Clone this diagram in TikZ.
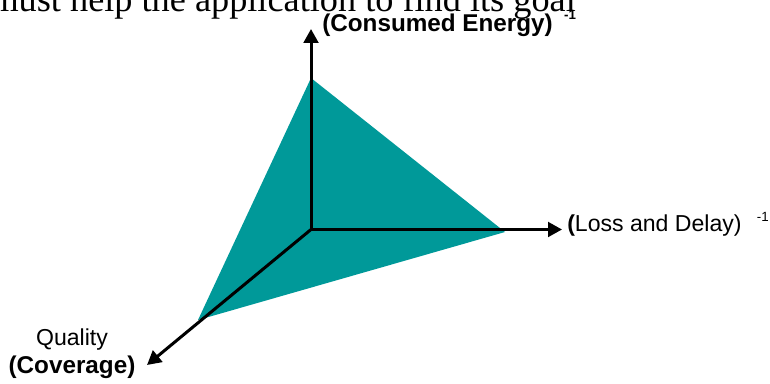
\documentclass[tikz,border=0pt]{standalone}
\usepackage{fontspec}
\setmainfont{Liberation Serif}
\setsansfont{Liberation Sans}
\usetikzlibrary{arrows.meta,positioning}
\definecolor{teal}{RGB}{0,153,153}

\begin{document}
\begin{tikzpicture}[x=0.75pt, y=-0.75pt,
  axis/.style={-{Triangle[length=10.5pt, width=11pt]}, line width=2.25pt, black},
  plane/.style={fill=teal, draw=none},
  lbl/.style={inner sep=0pt, font=\sffamily\fontsize{17.3}{21}\selectfont},
  blbl/.style={inner sep=0pt, font=\sffamily\bfseries\fontsize{18.2}{21}\selectfont}
]
  \useasboundingbox (0,0) rectangle (770,384);

  % heading, cut off by the page
  \node[inner sep=0pt, anchor=base east, font=\fontsize{27.2}{30}\selectfont] (head) at (576,11.5) {must help the application to find its goal};

  % axes and the plane
  \coordinate (O) at (311,229.5);
  \coordinate (Etop) at (311,78);
  \coordinate (Lend) at (505,232);
  \coordinate (Qend) at (198,320);
  \coordinate (Etip) at (311,29);
  \coordinate (Ltip) at (562,229.5);
  \coordinate (Qtip) at (147,365);

  \fill[plane] (Etop) -- (Lend) -- (Qend) -- cycle;

  \draw[axis] (O) -- (Etip);
  \draw[axis] (O) -- (Ltip);
  \draw[axis] (O) -- (Qtip);

  % labels
  \node[blbl, anchor=base west] (energy) at (322,32) {(Consumed Energy)\hspace{8.5pt}\raisebox{9.5pt}{\fontsize{10}{10}\selectfont -1}};
  \node[lbl, anchor=base west] (loss) at (567,232) {\textbf{(}Loss and Delay)\hspace{11.5pt}\raisebox{8pt}{\fontsize{10}{10}\selectfont -1}};
  \node[lbl, anchor=base] (quality) at (72,345) {Quality};
  \node[blbl, anchor=base] (coverage) at (72,373) {(Coverage)};
\end{tikzpicture}
\end{document}
